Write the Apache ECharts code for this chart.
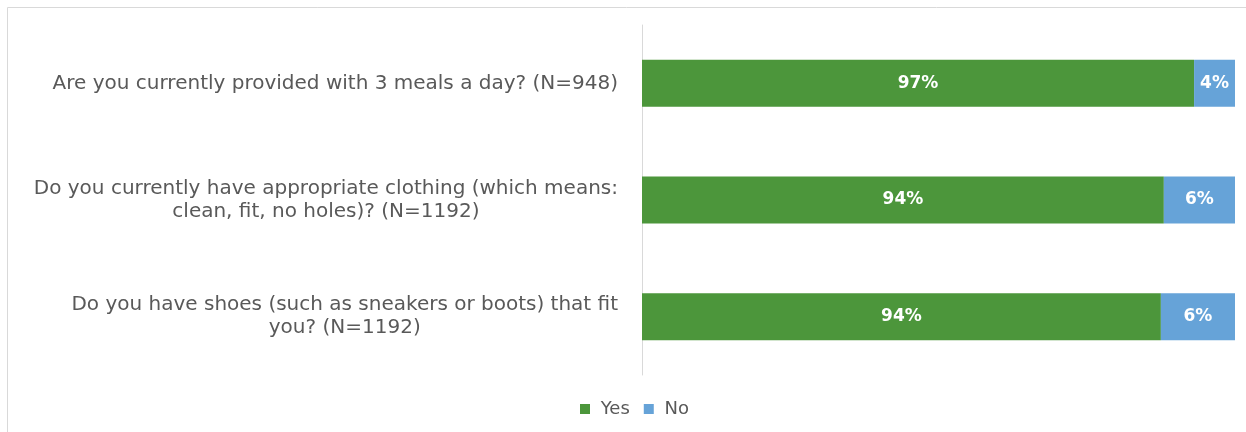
<!DOCTYPE html>
<html lang="en">
<head>
    <meta charset="UTF-8">
    <title>Meals, clothing and shoes</title>
    <style>
        html, body {
            margin: 0;
            padding: 0;
            background: #ffffff;
        }
        #main {
            width: 1246px;
            height: 432px;
        }
    </style>
    <script type="text/javascript" src="https://cdn.jsdelivr.net/npm/echarts@6/dist/echarts.min.js"></script>
</head>
<body>
<div id="main"></div>
<script type="text/javascript">
    // questions, top to bottom
    var questions = [
        'Are you currently provided with 3 meals a day? (N=948)',
        'Do you currently have appropriate clothing (which means:\nclean, fit, no holes)? (N=1192)',
        'Do you have shoes (such as sneakers or boots) that fit\nyou? (N=1192)'
    ];
    // bar lengths as drawn (share of the full bar)
    var yesValues = [93.1, 88.0, 87.5];
    var noValues = [6.9, 12.0, 12.5];
    // printed labels
    var yesLabels = ['97%', '94%', '94%'];
    var noLabels = ['4%', '6%', '6%'];

    var chart = echarts.init(document.getElementById('main'));

    var barLabel = function (texts) {
        return {
            show: true,
            position: 'inside',
            color: '#ffffff',
            fontFamily: 'DejaVu Sans',
            fontWeight: 'bold',
            fontSize: 17,
            formatter: function (p) {
                return texts[p.dataIndex];
            }
        };
    };

    var option = {
        animation: false,
        grid: {
            left: 642,
            right: 11,
            top: 25,
            height: 350
        },
        legend: {
            data: ['Yes', 'No'],
            left: 575,
            top: 395,
            icon: 'rect',
            itemWidth: 10,
            itemHeight: 10,
            itemGap: 14,
            formatter: function (name) {
                return ' ' + name;
            },
            textStyle: {
                color: '#595959',
                fontSize: 18,
                fontFamily: 'DejaVu Sans'
            }
        },
        xAxis: {
            type: 'value',
            min: 0,
            max: 100,
            show: false
        },
        yAxis: {
            type: 'category',
            inverse: true,
            data: questions,
            axisLine: {show: true, lineStyle: {color: '#d9d9d9', width: 1}},
            axisTick: {show: false},
            splitLine: {show: false},
            axisLabel: {
                margin: 24,
                color: '#595959',
                fontSize: 20,
                fontFamily: 'DejaVu Sans',
                lineHeight: 23,
                formatter: function (v) {
                    return v.split('\n').map(function (l) {
                        return '{c|' + l + '}';
                    }).join('\n');
                },
                rich: {
                    c: {
                        align: 'center',
                        color: '#595959',
                        fontSize: 20,
                        fontFamily: 'DejaVu Sans',
                        lineHeight: 23
                    }
                }
            }
        },
        series: [{
            name: 'Yes',
            type: 'bar',
            stack: 'all',
            barWidth: 47,
            data: yesValues,
            itemStyle: {color: '#4c963b'},
            label: barLabel(yesLabels)
        }, {
            name: 'No',
            type: 'bar',
            stack: 'all',
            barWidth: 47,
            data: noValues,
            itemStyle: {color: '#66a3d8'},
            label: barLabel(noLabels)
        }],
        graphic: [{
            type: 'polyline',
            shape: {points: [[7.5, 432], [7.5, 7.5], [1246, 7.5]]},
            style: {stroke: '#d9d9d9', lineWidth: 1, fill: null},
            silent: true
        }]
    };
    chart.setOption(option);
</script>
</body>
</html>
